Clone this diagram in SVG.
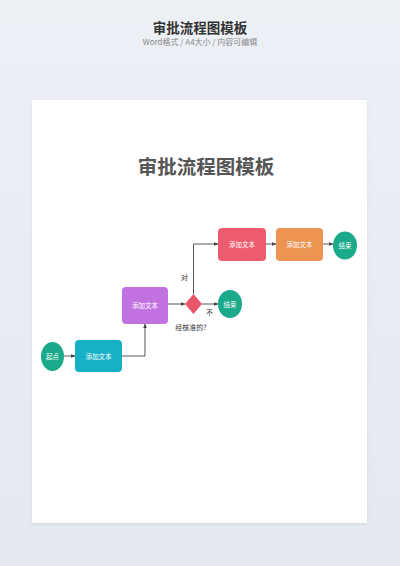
<svg xmlns="http://www.w3.org/2000/svg" width="400" height="566" viewBox="0 0 400 566">
<defs>
<linearGradient id="bg" x1="0" y1="0" x2="0" y2="1">
<stop offset="0" stop-color="#edf0f5"/>
<stop offset="1" stop-color="#e4e8f0"/>
</linearGradient>
<filter id="sh" x="-5%" y="-5%" width="110%" height="110%">
<feDropShadow dx="0" dy="1" stdDeviation="1.5" flood-color="#000" flood-opacity="0.08"/>
</filter>
<marker id="ar" viewBox="0 0 10 10" refX="9" refY="5" markerWidth="5" markerHeight="5" orient="auto">
<path d="M0,1 L10,5 L0,9 Z" fill="#444"/>
</marker>
</defs>
<style>
.cn{font-family:"Noto Sans CJK SC","Noto Sans",sans-serif}
.nt{font-size:6.5px;fill:#fff;text-anchor:middle}
.lb{font-size:7px;fill:#333}
.ln{fill:none;stroke:#444;stroke-width:0.9}
</style>
<rect width="400" height="566" fill="url(#bg)"/>
<text class="cn" x="200" y="33" text-anchor="middle" font-size="13.5" font-weight="bold" fill="#333">审批流程图模板</text>
<text class="cn" x="200" y="45" text-anchor="middle" font-size="8" fill="#888">Word格式 / A4大小 / 内容可编辑</text>
<rect x="32" y="100" width="335" height="423" fill="#fff" filter="url(#sh)"/>
<text class="cn" x="206" y="174" text-anchor="middle" font-size="19.5" font-weight="bold" fill="#555">审批流程图模板</text>
<g id="connectors">
<path class="ln" d="M64,356 H75" marker-end="url(#ar)"/>
<path class="ln" d="M122,356 H145 V324" marker-end="url(#ar)"/>
<path class="ln" d="M168,304 H185" marker-end="url(#ar)"/>
<path class="ln" d="M202,304 H218" marker-end="url(#ar)"/>
<path class="ln" d="M193.5,294 V244 H218" marker-end="url(#ar)"/>
<path class="ln" d="M266,244 H276" marker-end="url(#ar)"/>
<path class="ln" d="M323,244 H333" marker-end="url(#ar)"/>
<text class="cn lb" x="181" y="280">对</text>
<text class="cn lb" x="206" y="315">不</text>
</g>
<g id="start">
<ellipse cx="52.5" cy="356.5" rx="11.5" ry="14.5" fill="#1aaa8a"/>
<text class="cn nt" x="52.5" y="359">起点</text>
</g>
<g id="step1">
<rect x="75" y="340" width="47" height="32" rx="4" fill="#17b0c6"/>
<text class="cn nt" x="98.5" y="358.5">添加文本</text>
</g>
<g id="step2">
<rect x="122" y="287" width="46" height="37" rx="4" fill="#c272e0"/>
<text class="cn nt" x="145" y="307.5">添加文本</text>
</g>
<g id="decision">
<path d="M193.5,294 L202,304 L193.5,314 L185,304 Z" fill="#ea5567"/>
<text class="cn lb" x="191" y="330" text-anchor="middle">经核准的?</text>
</g>
<g id="end1">
<ellipse cx="230" cy="304" rx="12" ry="14" fill="#1aaa8a"/>
<text class="cn nt" x="230" y="306.5">结束</text>
</g>
<g id="step3">
<rect x="218" y="228" width="48" height="33" rx="4" fill="#ef5b6e"/>
<text class="cn nt" x="242" y="246.5">添加文本</text>
</g>
<g id="step4">
<rect x="276" y="228" width="47" height="33" rx="4" fill="#ee9452"/>
<text class="cn nt" x="299.5" y="246.5">添加文本</text>
</g>
<g id="end2">
<ellipse cx="345" cy="245.5" rx="12" ry="14" fill="#1aaa8a"/>
<text class="cn nt" x="345" y="248">结束</text>
</g>
</svg>
